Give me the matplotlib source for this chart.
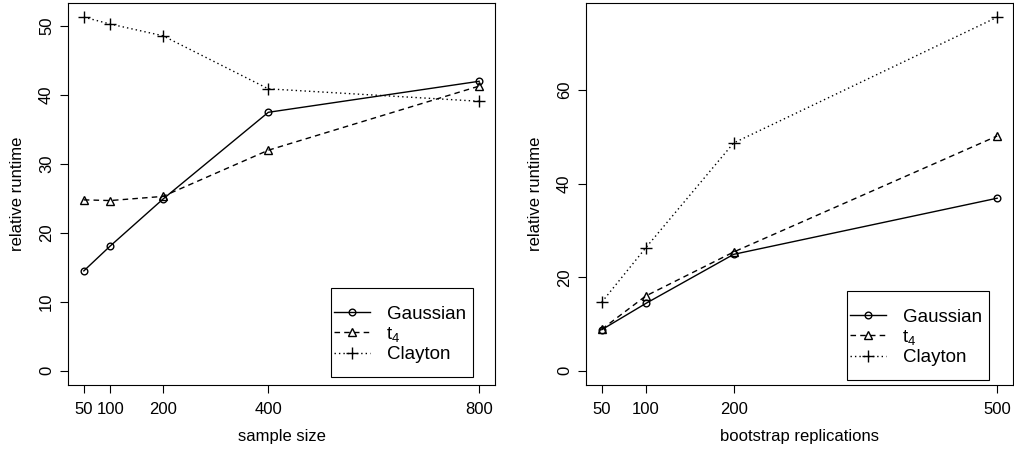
import matplotlib
matplotlib.use("Agg")
import matplotlib.pyplot as plt
from matplotlib.patches import Rectangle

plt.rcParams['font.family'] = ['Liberation Sans', 'DejaVu Sans']

# Left panel: sample size
sample_sizes = [50, 100, 200, 400, 800]
left_gaussian = [14.5, 18.1, 24.9, 37.5, 42.0]
left_t4 = [24.8, 24.7, 25.3, 32.0, 41.3]
left_clayton = [51.3, 50.3, 48.6, 40.9, 39.1]

# Right panel: bootstrap replications
boot_reps = [50, 100, 200, 500]
right_gaussian = [8.8, 14.4, 24.9, 36.9]
right_t4 = [8.9, 16.0, 25.4, 50.2]
right_clayton = [14.7, 26.3, 48.7, 75.6]

series_labels = ["Gaussian", "$\\mathregular{t_4}$", "Clayton"]
left_yticks = [0, 10, 20, 30, 40, 50]
right_yticks = [0, 20, 40, 60]

W, H = 1014, 450
fig = plt.figure(figsize=(W / 100, H / 100), dpi=100)

def rext(lo, hi):
    d = (hi - lo) * 0.04
    return lo - d, hi + d

styles = [
    dict(ls='-', marker='o', ms=4.8),
    dict(ls=(0, (4, 3)), marker='^', ms=6),
    dict(ls=(0, (1, 2.2)), marker='+', ms=8),
]

def panel(rect, x, ys, xticks, yticks, xlabel, ymax, legbox):
    ax = fig.add_axes(rect)
    for y, st, lab in zip(ys, styles, series_labels):
        ax.plot(x, y, color='black', lw=1.0, linestyle=st['ls'], marker=st['marker'],
                ms=st['ms'], mfc='none', mec='black', mew=1.0, label=lab)
    ax.set_xlim(*rext(min(x), max(x)))
    ax.set_ylim(*rext(0, ymax))
    ax.set_xticks(xticks)
    ax.set_xticklabels([str(v) for v in xticks])
    ax.set_yticks(yticks)
    ax.set_yticklabels([str(v) for v in yticks], rotation=90, va='center')
    ax.tick_params(direction='out', length=6, width=0.8, labelsize=12, pad=4)
    ax.tick_params(axis='x', pad=6)
    for s in ax.spines.values():
        s.set_linewidth(0.8)
    ax.set_xlabel(xlabel, fontsize=12, labelpad=9)
    ax.set_ylabel("relative runtime", fontsize=12, labelpad=10)
    x0, y0, x1, y1 = legbox
    rect_patch = Rectangle((x0 / W, (H - y1) / H), (x1 - x0) / W, (y1 - y0) / H,
                           transform=fig.transFigure, fill=True, facecolor='white',
                           edgecolor='black', lw=0.8, zorder=4, clip_on=False)
    ax.add_patch(rect_patch)
    leg = ax.legend(loc='center left',
                    bbox_to_anchor=((x0 + 3) / W, (H - (y0 + y1) / 2 - 2) / H),
                    bbox_transform=fig.transFigure, frameon=False,
                    fontsize=13.5, handlelength=1.9, handletextpad=0.9,
                    labelspacing=0.12, borderpad=0.0, borderaxespad=0)
    leg.set_zorder(6)
    return ax

def fr(x0, y0, x1, y1):
    return [x0 / W, (H - y1) / H, (x1 - x0) / W, (y1 - y0) / H]

panel(fr(68, 3, 495, 385), sample_sizes, [left_gaussian, left_t4, left_clayton],
      sample_sizes, left_yticks, "sample size", max(left_clayton),
      (331, 288, 473, 377))
panel(fr(586, 3, 1013, 385), boot_reps, [right_gaussian, right_t4, right_clayton],
      boot_reps, right_yticks, "bootstrap replications", max(right_clayton),
      (847, 291, 989, 380))

fig.savefig("out.png", dpi=100)
